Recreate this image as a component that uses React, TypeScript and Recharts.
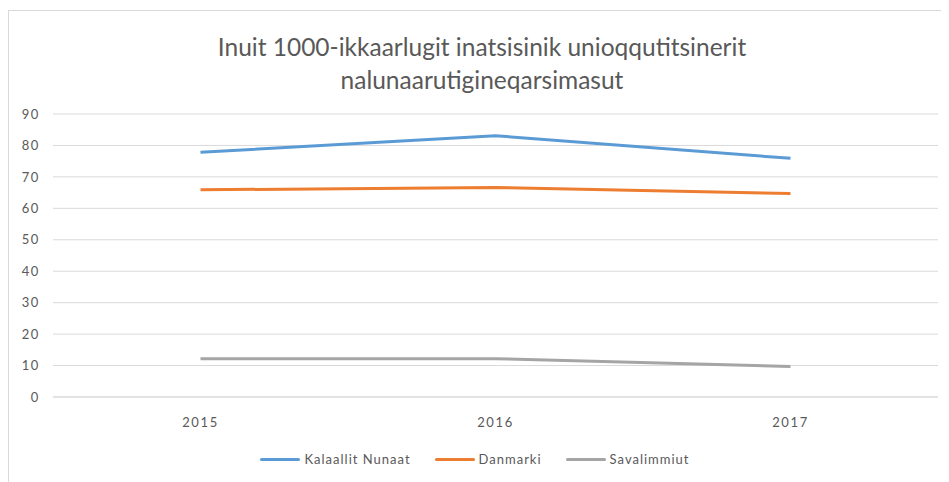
import React from 'react';
import { LineChart, Line, XAxis, YAxis, CartesianGrid, Legend } from 'recharts';

const years = ['2015', '2016', '2017'];
const kalaallitNunaat = [77.8, 83.1, 75.9];
const danmarki = [65.9, 66.6, 64.7];
const savalimmiut = [12.2, 12.2, 9.7];
const yTicks = [0, 10, 20, 30, 40, 50, 60, 70, 80, 90];
const seriesOrder = ['Kalaallit Nunaat', 'Danmarki', 'Savalimmiut'];

const data = years.map((year, i) => ({
  year,
  'Kalaallit Nunaat': kalaallitNunaat[i],
  Danmarki: danmarki[i],
  Savalimmiut: savalimmiut[i],
}));

const FONT = 'Lato, "Open Sans", sans-serif';
const TEXT = '#595959';

const renderLegend = (props: any) => {
  const payload = [...(props.payload || [])].sort(
    (a: any, b: any) => seriesOrder.indexOf(a.value) - seriesOrder.indexOf(b.value)
  );
  return (
    <div style={{ display: 'flex', justifyContent: 'center', alignItems: 'center', fontFamily: FONT, fontSize: 13, letterSpacing: 1.0, color: TEXT, paddingLeft: 4 }}>
      {payload.map((entry: any, index: number) => (
        <div key={`item-${index}`} style={{ display: 'flex', alignItems: 'center', marginRight: index < payload.length - 1 ? 24 : 0 }}>
          <div style={{ width: 40, height: 3, borderRadius: 2, backgroundColor: entry.color, marginRight: 4 }}></div>
          <span>{entry.value}</span>
        </div>
      ))}
    </div>
  );
};

const App: React.FC = () => {
  return (
    <div style={{ position: 'relative', width: 941, height: 474, overflow: 'hidden' }}>
      <div style={{ position: 'absolute', left: 0, top: 2, width: 960, height: 480, borderLeft: '1px solid #d9d9d9', borderTop: '1px solid #d9d9d9' }}></div>
      <div style={{ position: 'absolute', left: 0, top: 22, width: 948, textAlign: 'center', fontFamily: FONT, fontWeight: 400, fontSize: 24.5, lineHeight: '33px', color: TEXT }}>
        Inuit 1000-ikkaarlugit inatsisinik unioqqutitsinerit<br />nalunaarutigineqarsimasut
      </div>
      <div style={{ position: 'absolute', left: 0, top: 0 }}>
        <LineChart width={941} height={474} data={data} margin={{ top: 106, right: 11, left: 0, bottom: 25 }}>
          <CartesianGrid vertical={false} stroke="#d9d9d9" />
          <XAxis
            dataKey="year"
            padding={{ left: 147.5, right: 147.5 }}
            axisLine={{ stroke: '#d9d9d9' }}
            tickLine={false}
            tickMargin={15}
            tick={{ fill: TEXT, fontSize: 13, fontFamily: FONT, letterSpacing: 1.6 }}
          />
          <YAxis
            width={45}
            domain={[0, 90]}
            ticks={yTicks}
            interval={0}
            axisLine={false}
            tickLine={false}
            tickMargin={7}
            tick={{ fill: TEXT, fontSize: 13, fontFamily: FONT, letterSpacing: 1.6 }}
          />
          <Legend content={renderLegend} verticalAlign="bottom" height={30} wrapperStyle={{ top: 443, bottom: 'auto' }} />
          <Line dataKey="Kalaallit Nunaat" stroke="#5b9bd5" strokeWidth={3} dot={false} isAnimationActive={false} />
          <Line dataKey="Danmarki" stroke="#ed7d31" strokeWidth={3} dot={false} isAnimationActive={false} />
          <Line dataKey="Savalimmiut" stroke="#a5a5a5" strokeWidth={3} dot={false} isAnimationActive={false} />
        </LineChart>
      </div>
    </div>
  );
};

export default App;
